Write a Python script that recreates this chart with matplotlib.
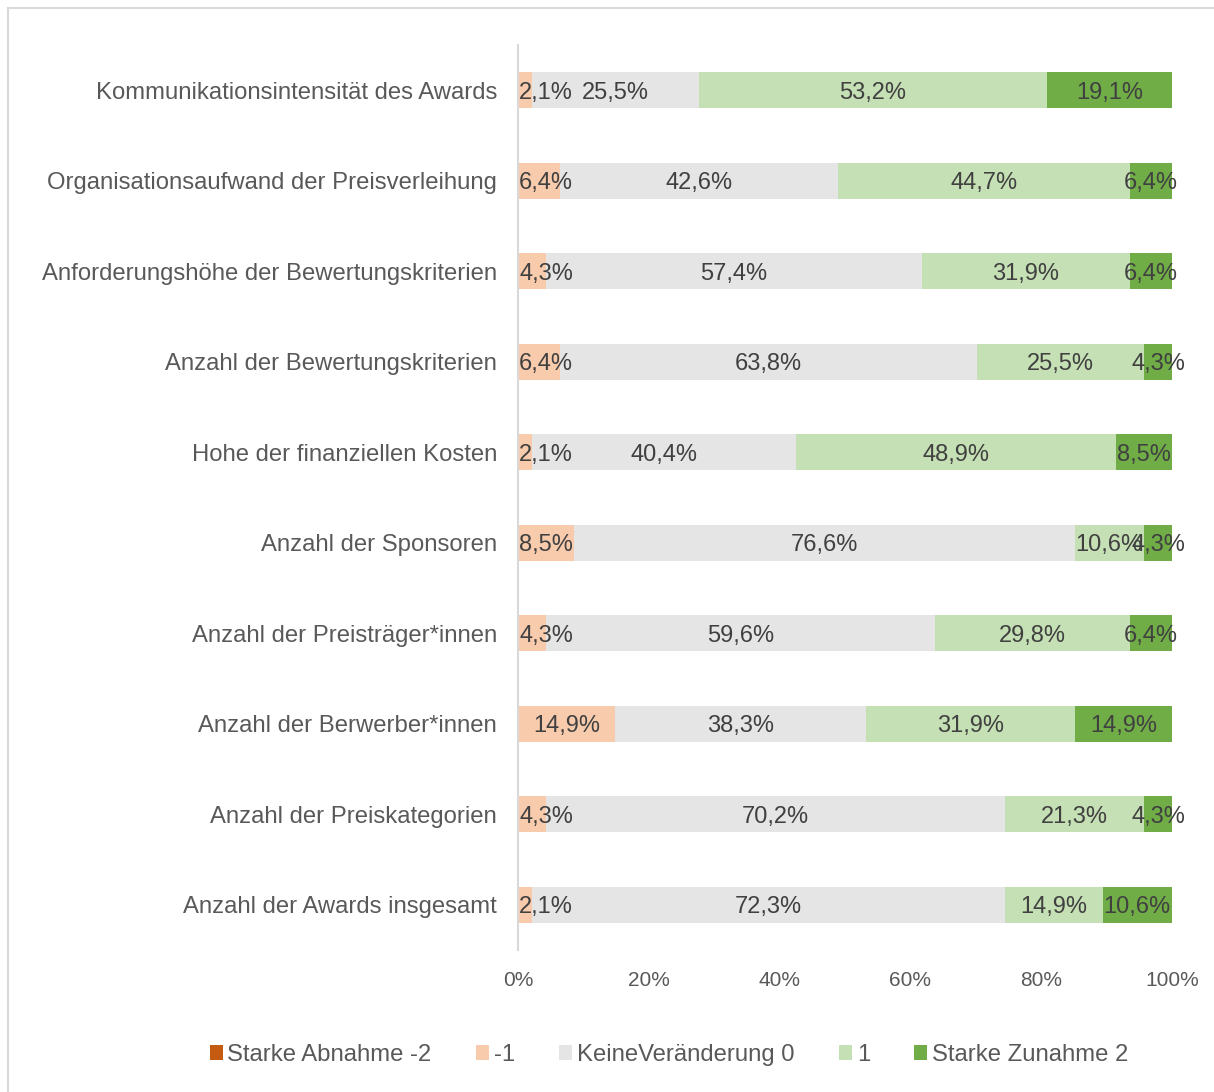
import matplotlib.pyplot as plt
from matplotlib.lines import Line2D
from matplotlib.patches import Patch

plt.rcParams['font.family'] = ['Liberation Sans', 'DejaVu Sans']

categories = [
    "Kommunikationsintensität des Awards",
    "Organisationsaufwand der Preisverleihung",
    "Anforderungshöhe der Bewertungskriterien",
    "Anzahl der Bewertungskriterien",
    "Hohe der finanziellen Kosten",
    "Anzahl der Sponsoren",
    "Anzahl der Preisträger*innen",
    "Anzahl der Berwerber*innen",
    "Anzahl der Preiskategorien",
    "Anzahl der Awards insgesamt",
]
series_names = ["Starke Abnahme -2", "-1", "KeineVeränderung 0", "1", "Starke Zunahme 2"]
colors = ["#C55A11", "#F8CBAD", "#E5E5E5", "#C5E0B4", "#70AD47"]

abnahme2 = [0, 0, 0, 0, 0, 0, 0, 0, 0, 0]
minus1 = [2.1, 6.4, 4.3, 6.4, 2.1, 8.5, 4.3, 14.9, 4.3, 2.1]
keine0 = [25.5, 42.6, 57.4, 63.8, 40.4, 76.6, 59.6, 38.3, 70.2, 72.3]
plus1 = [53.2, 44.7, 31.9, 25.5, 48.9, 10.6, 29.8, 31.9, 21.3, 14.9]
zunahme2 = [19.1, 6.4, 6.4, 4.3, 8.5, 4.3, 6.4, 14.9, 4.3, 10.6]
series = [abnahme2, minus1, keine0, plus1, zunahme2]

fig = plt.figure(figsize=(12.14, 10.92), dpi=100)
ax = fig.add_axes([518 / 1214, 1 - 950 / 1092, 654 / 1214, 905 / 1092])

n = len(categories)
ypos = list(range(n))[::-1]
totals = [sum(s[i] for s in series) for i in range(n)]
text_col = "#404040"

left = [0.0] * n
for name, vals, col in zip(series_names, series, colors):
    widths = [v / t * 100 for v, t in zip(vals, totals)]
    ax.barh(ypos, widths, left=left, height=0.4, color=col, label=name)
    for i in range(n):
        if vals[i] > 0:
            mid = left[i] + widths[i] / 2
            xt = max(mid, 4.3)
            ax.text(xt, ypos[i], f"{vals[i]:.1f}%".replace(".", ","),
                    ha="center", va="center_baseline", fontsize=17, color=text_col)
    left = [l + w for l, w in zip(left, widths)]

ax.set_xlim(0, 100)
ax.set_ylim(-0.5, n - 0.5)
ax.set_yticks(ypos)
ax.set_yticklabels(categories, fontsize=17.2, color="#595959")
ax.set_xticks([0, 20, 40, 60, 80, 100])
ax.set_xticklabels([f"{v}%" for v in [0, 20, 40, 60, 80, 100]], fontsize=15, color="#595959")
ax.tick_params(axis="both", length=0)
ax.tick_params(axis="x", pad=15)
ax.tick_params(axis="y", pad=15)
for s in ["top", "right", "bottom"]:
    ax.spines[s].set_visible(False)
ax.spines["left"].set_color("#D9D9D9")
ax.spines["left"].set_linewidth(1.5)

handles = [Patch(facecolor=c) for c in colors]
fig.legend(handles, series_names, loc="center", bbox_to_anchor=(669 / 1214, 1 - 1055 / 1092),
           ncol=5, frameon=False, fontsize=17.2, handlelength=0.55, handleheight=0.55,
           handletextpad=0.2, columnspacing=1.85, labelcolor="#595959")

# chart border (top and left edges visible)
fig.add_artist(Line2D([8 / 1214, 8 / 1214], [0, 1 - 8 / 1092], transform=fig.transFigure,
                      color="#D9D9D9", lw=1.5))
fig.add_artist(Line2D([8 / 1214, 1], [1 - 8 / 1092, 1 - 8 / 1092], transform=fig.transFigure,
                      color="#D9D9D9", lw=1.5))

fig.savefig("out.png", dpi=100)
